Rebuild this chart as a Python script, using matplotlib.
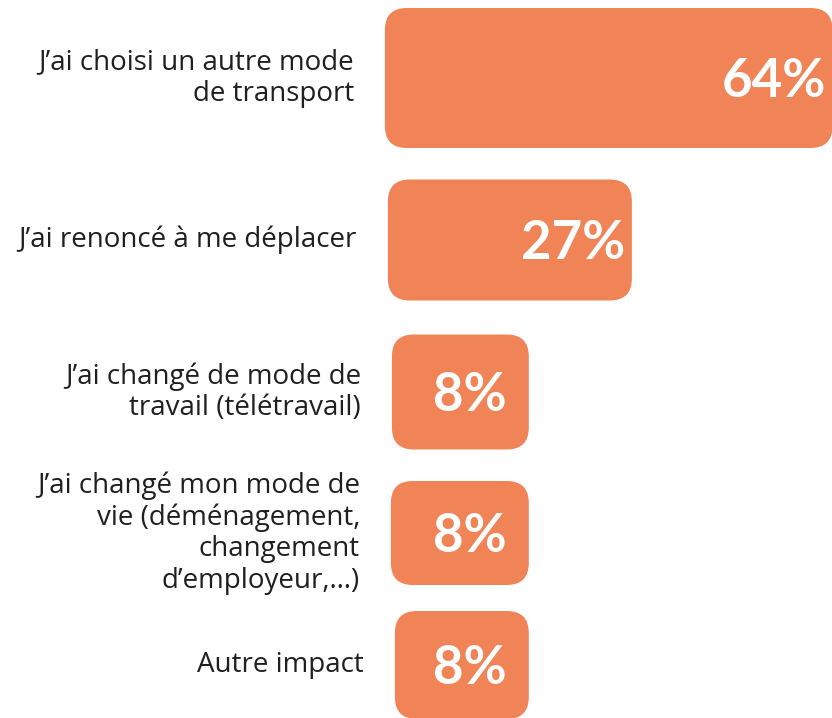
import matplotlib
matplotlib.use('Agg')
import matplotlib.pyplot as plt
from matplotlib.patches import FancyBboxPatch

# data
labels = ['J’ai choisi un autre mode\nde transport',
          'J’ai renoncé à me déplacer',
          'J’ai changé de mode de\ntravail (télétravail)',
          'J’ai changé mon mode de\nvie (déménagement,\nchangement\nd’employeur,…)',
          'Autre impact']
values = [64, 27, 8, 8, 8]

# layout: row centres / heights in hundreds of px (rows shrink a bit downward)
row_center = [0.78, 2.40, 3.92, 5.33, 6.65]
row_height = [1.40, 1.21, 1.15, 1.04, 1.08]
left_nudge = [-4, -1, 3, 2, 6]  # px, bars' left edges drift right a little

orange = '#F08457'
base = 17.8  # bars start this far left of zero

fig = plt.figure(figsize=(8.32, 7.18), dpi=100)
ax = fig.add_axes([0, 0, 1, 1])
ax.set_xlim(-89.5, 63.9)
ax.set_ylim(7.18, 0)
ax.axis('off')

px_x = 832 / (63.9 + 89.5)  # px per % unit
rad = 22 / px_x

for lab, v, yc, h, nd in zip(labels, values, row_center, row_height, left_nudge):
    left = -base + nd / px_x
    box = FancyBboxPatch((left, yc - h / 2), v - left, h,
                         boxstyle=f'round,pad=0,rounding_size={rad}',
                         mutation_aspect=px_x / 100, fc=orange, ec='none')
    ax.add_patch(box)
    ax.annotate(f'{v}%', (v, yc), xytext=(-59, -19), textcoords='offset pixels',
                ha='center', va='baseline', color='white', fontsize=38,
                fontweight='bold', family=['Lato', 'DejaVu Sans'],
                annotation_clip=False)
    ax.annotate(lab, (left, yc), xytext=(-31, 0), textcoords='offset pixels',
                ha='right', va='center', multialignment='right', fontsize=20,
                linespacing=1.16, color='#1F1F1F', family=['Open Sans', 'DejaVu Sans'])

fig.savefig('out.png', dpi=100)
